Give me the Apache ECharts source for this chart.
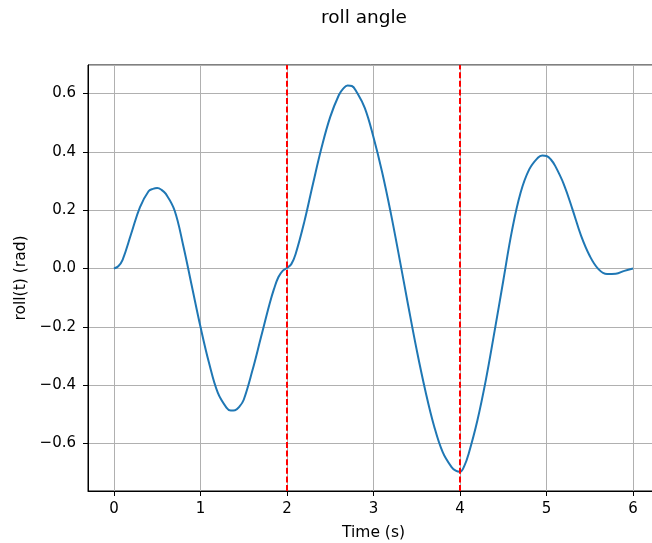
<!DOCTYPE html>
<html>
<head>
<meta charset="utf-8">
<script src="https://cdn.jsdelivr.net/npm/echarts@6/dist/echarts.min.js"></script>
<style>
  html, body { margin: 0; padding: 0; background: #fff; }
  #main { width: 652px; height: 543px; }
</style>
</head>
<body>
<div id="main"></div>
<script>
// time samples (s) and roll angle (rad)
var times = [0, 0.05, 0.1, 0.2, 0.3, 0.4, 0.45, 0.5, 0.55, 0.6, 0.7, 0.8, 0.9,
  1.0, 1.1, 1.2, 1.3, 1.35, 1.4, 1.45, 1.5, 1.6, 1.7, 1.8, 1.85, 1.9, 1.95,
  2.0, 2.05, 2.1, 2.2, 2.3, 2.4, 2.5, 2.6, 2.65, 2.7, 2.75, 2.8, 2.9,
  3.0, 3.1, 3.2, 3.3, 3.4, 3.5, 3.6, 3.7, 3.8, 3.9, 3.95,
  4.0, 4.05, 4.1, 4.2, 4.3, 4.4, 4.5, 4.6, 4.7, 4.8, 4.9, 4.95,
  5.0, 5.05, 5.1, 5.2, 5.3, 5.4, 5.5, 5.6, 5.7, 5.8, 5.9, 6.0];
var roll = [0, 0.008, 0.03, 0.12, 0.21, 0.265, 0.273, 0.276, 0.27, 0.256, 0.2, 0.08, -0.06,
  -0.2, -0.325, -0.426, -0.477, -0.487, -0.486, -0.474, -0.45, -0.35, -0.235, -0.12, -0.07, -0.03, -0.008,
  0.002, 0.015, 0.05, 0.16, 0.29, 0.415, 0.52, 0.595, 0.617, 0.628, 0.626, 0.608, 0.55,
  0.45, 0.33, 0.19, 0.035, -0.125, -0.28, -0.42, -0.54, -0.63, -0.68, -0.693,
  -0.697, -0.677, -0.635, -0.522, -0.38, -0.214, -0.042, 0.129, 0.26, 0.34, 0.38, 0.388,
  0.386, 0.374, 0.352, 0.289, 0.203, 0.112, 0.043, -0.002, -0.019, -0.018, -0.008, 0];
var markers = [2, 4];

var chartDom = document.getElementById('main');
var myChart = echarts.init(chartDom);
var option;

var pts = times.map(function (t, i) { return [t, roll[i]]; });
var font = 'DejaVu Sans';

option = {
  animation: false,
  backgroundColor: '#ffffff',
  title: {
    text: 'roll angle',
    left: 316,
    top: 4,
    textStyle: { fontFamily: font, fontSize: 18.5, fontWeight: 'normal', color: '#000' }
  },
  grid: {
    left: 88,
    top: 65,
    width: 571,
    height: 426,
    outerBoundsMode: 'none',
    show: true,
    borderColor: '#000',
    borderWidth: 1,
    backgroundColor: '#fff'
  },
  xAxis: {
    type: 'value',
    min: -0.3,
    max: 6.3,
    splitNumber: 6,
    name: 'Time (s)',
    nameLocation: 'middle',
    nameGap: 34,
    nameTextStyle: { fontFamily: font, fontSize: 15.5, color: '#000' },
    axisLine: { show: true, onZero: false, lineStyle: { color: '#000' } },
    axisTick: { show: true, length: 5, lineStyle: { color: '#000' } },
    axisLabel: {
      fontFamily: font, fontSize: 15, color: '#000', margin: 11,
      showMinLabel: false, showMaxLabel: false
    },
    splitLine: { show: true, lineStyle: { color: '#b0b0b0', width: 1 } }
  },
  yAxis: {
    type: 'value',
    min: -0.763,
    max: 0.698,
    splitNumber: 7,
    name: 'roll(t) (rad)',
    nameLocation: 'middle',
    nameGap: 59,
    nameTextStyle: { fontFamily: font, fontSize: 15.5, color: '#000' },
    axisLine: { show: true, onZero: false, lineStyle: { color: '#000' } },
    axisTick: { show: true, length: 5, lineStyle: { color: '#000' } },
    axisLabel: {
      fontFamily: font, fontSize: 15, color: '#000', margin: 12,
      showMinLabel: false, showMaxLabel: false,
      formatter: function (v) { return v.toFixed(1).replace('-', '\u2212'); }
    },
    splitLine: { show: true, lineStyle: { color: '#b0b0b0', width: 1 } }
  },
  series: [
    {
      name: 'roll',
      type: 'line',
      data: pts,
      smooth: 0.4,
      showSymbol: false,
      lineStyle: { color: '#1f77b4', width: 2 },
      markLine: {
        silent: true,
        symbol: ['none', 'none'],
        label: { show: false },
        lineStyle: { color: '#ff0000', type: [6, 2.6], width: 2 },
        data: markers.map(function (m) { return { xAxis: m }; })
      }
    }
  ]
};

option && myChart.setOption(option);
</script>
</body>
</html>
